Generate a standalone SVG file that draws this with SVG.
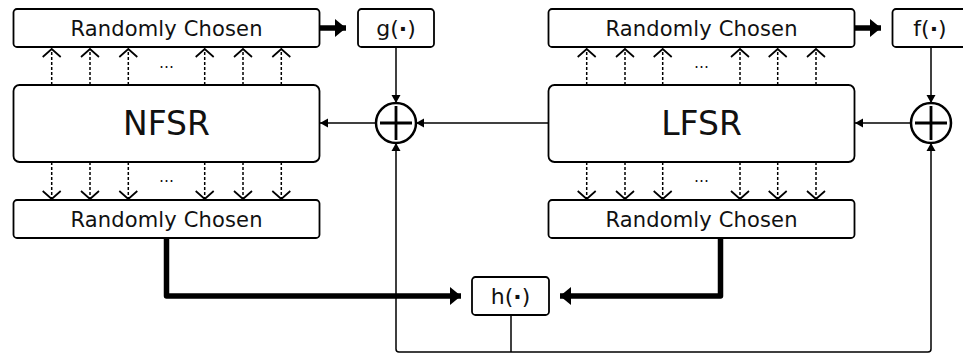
<svg xmlns="http://www.w3.org/2000/svg" width="963" height="354" viewBox="0 0 963 354">
<defs>
<style>
.box{fill:#fff;stroke:#000;stroke-width:1.8}
.t{font-family:"DejaVu Sans",Verdana,sans-serif;fill:#111;text-anchor:middle}
.rc{font-size:21px}
.fn{font-size:22px}
.big{font-size:33px}
.dots{font-size:15px}
.b{font-weight:bold}
.thin{fill:none;stroke:#000;stroke-width:1.5}
.thick{fill:none;stroke:#000;stroke-width:5.5;stroke-linejoin:round}
.dash{fill:none;stroke:#000;stroke-width:1.5;stroke-dasharray:3 2}
.xor{fill:#fff;stroke:#000;stroke-width:2.5}
.plus{stroke:#000;stroke-width:2.8}
</style>
<marker id="a" markerUnits="userSpaceOnUse" markerWidth="10" markerHeight="10" viewBox="0 0 10 10" refX="9" refY="5" orient="auto"><path d="M1,0.5 L9,5 L1,9.5 Z" fill="#000"/></marker>
<marker id="ab" markerUnits="userSpaceOnUse" markerWidth="13" markerHeight="20" viewBox="0 0 13 20" refX="12" refY="10" orient="auto"><path d="M1,1 L12,10 L1,19 Z" fill="#000"/></marker>
<marker id="c" markerUnits="userSpaceOnUse" markerWidth="12" markerHeight="20" viewBox="0 0 12 20" refX="10" refY="10" orient="auto"><path d="M2,1 L10,10 L2,19" fill="none" stroke="#000" stroke-width="1.7"/></marker>
</defs>

<g id="connectors">
<!-- NFSR taps up -->
<path class="dash" marker-end="url(#c)" d="M51.7,85V49"/>
<path class="dash" marker-end="url(#c)" d="M90,85V49"/>
<path class="dash" marker-end="url(#c)" d="M128.3,85V49"/>
<path class="dash" marker-end="url(#c)" d="M204.7,85V49"/>
<path class="dash" marker-end="url(#c)" d="M243,85V49"/>
<path class="dash" marker-end="url(#c)" d="M281.3,85V49"/>
<!-- NFSR taps down -->
<path class="dash" marker-end="url(#c)" d="M51.7,162V199"/>
<path class="dash" marker-end="url(#c)" d="M90,162V199"/>
<path class="dash" marker-end="url(#c)" d="M128.3,162V199"/>
<path class="dash" marker-end="url(#c)" d="M204.7,162V199"/>
<path class="dash" marker-end="url(#c)" d="M243,162V199"/>
<path class="dash" marker-end="url(#c)" d="M281.3,162V199"/>
<!-- LFSR taps up -->
<path class="dash" marker-end="url(#c)" d="M586.7,85V49"/>
<path class="dash" marker-end="url(#c)" d="M625,85V49"/>
<path class="dash" marker-end="url(#c)" d="M662.7,85V49"/>
<path class="dash" marker-end="url(#c)" d="M740,85V49"/>
<path class="dash" marker-end="url(#c)" d="M777.7,85V49"/>
<path class="dash" marker-end="url(#c)" d="M816,85V49"/>
<!-- LFSR taps down -->
<path class="dash" marker-end="url(#c)" d="M586.7,162V199"/>
<path class="dash" marker-end="url(#c)" d="M625,162V199"/>
<path class="dash" marker-end="url(#c)" d="M662.7,162V199"/>
<path class="dash" marker-end="url(#c)" d="M740,162V199"/>
<path class="dash" marker-end="url(#c)" d="M777.7,162V199"/>
<path class="dash" marker-end="url(#c)" d="M816,162V199"/>
<text class="t dots" x="166.5" y="68">…</text>
<text class="t dots" x="166.5" y="182">…</text>
<text class="t dots" x="701.5" y="68">…</text>
<text class="t dots" x="701.5" y="182">…</text>

<!-- thick arrows -->
<path class="thick" marker-end="url(#ab)" d="M320,28H346"/>
<path class="thick" marker-end="url(#ab)" d="M855,28H881"/>
<path class="thick" marker-end="url(#ab)" d="M166.5,239V296H461"/>
<path class="thick" marker-end="url(#ab)" d="M720.5,239V296H560"/>

<!-- thin arrows -->
<path class="thin" marker-end="url(#a)" d="M396,47V103"/>
<path class="thin" marker-end="url(#a)" d="M931,47V103"/>
<path class="thin" marker-end="url(#a)" d="M548,123H416"/>
<path class="thin" marker-end="url(#a)" d="M376,123H320"/>
<path class="thin" marker-end="url(#a)" d="M911,123H855"/>
<path class="thin" marker-end="url(#a)" d="M511,352H399Q396,352 396,349V143"/>
<path class="thin" marker-end="url(#a)" d="M511,352H928Q931,352 931,349V143"/>
<path class="thin" d="M511,315V352"/>
</g>

<g id="rc-nfsr-top"><rect class="box" x="13.5" y="9" width="306" height="38" rx="3.5"/><text class="t rc" x="166.5" y="35.5" textLength="192" lengthAdjust="spacing">Randomly Chosen</text></g>
<g id="g"><rect class="box" x="358" y="9" width="76" height="38" rx="3.5"/><text class="t fn" x="396" y="35.5">g(<tspan class="b">·</tspan>)</text></g>
<g id="nfsr"><rect class="box" x="13.5" y="85" width="306" height="77" rx="6"/><text class="t big" x="166.5" y="135">NFSR</text></g>
<g id="rc-nfsr-bot"><rect class="box" x="13.5" y="200" width="306" height="38" rx="3.5"/><text class="t rc" x="166.5" y="226.5" textLength="192" lengthAdjust="spacing">Randomly Chosen</text></g>
<g id="xor-left"><circle class="xor" cx="396" cy="123" r="20"/><path class="plus" d="M380,123H412M396,106V140"/></g>

<g id="rc-lfsr-top"><rect class="box" x="548.5" y="9" width="306" height="38" rx="3.5"/><text class="t rc" x="701.5" y="35.5" textLength="192" lengthAdjust="spacing">Randomly Chosen</text></g>
<g id="f"><rect class="box" x="892.5" y="9" width="76" height="38" rx="3.5"/><text class="t fn" x="930" y="35.5">f(<tspan class="b">·</tspan>)</text></g>
<g id="lfsr"><rect class="box" x="548.5" y="85" width="306" height="77" rx="6"/><text class="t big" x="701.5" y="135">LFSR</text></g>
<g id="rc-lfsr-bot"><rect class="box" x="548.5" y="200" width="306" height="38" rx="3.5"/><text class="t rc" x="701.5" y="226.5" textLength="192" lengthAdjust="spacing">Randomly Chosen</text></g>
<g id="xor-right"><circle class="xor" cx="931" cy="123" r="20"/><path class="plus" d="M915,123H947M931,106V140"/></g>

<g id="h"><rect class="box" x="472" y="277" width="77" height="38" rx="3.5"/><text class="t fn" x="510.5" y="303.5">h(<tspan class="b">·</tspan>)</text></g>
</svg>
